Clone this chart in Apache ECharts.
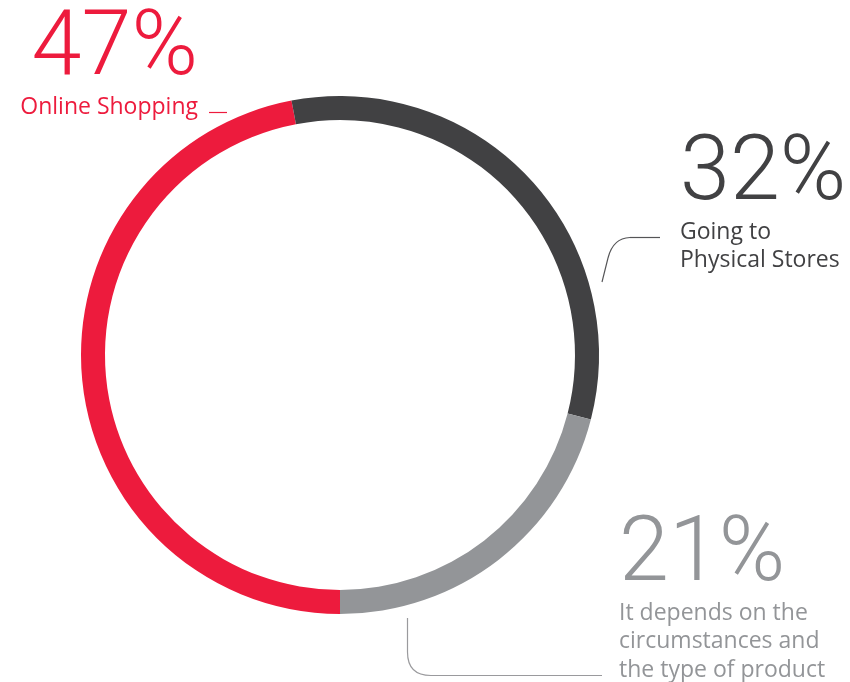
<!DOCTYPE html>
<html>
<head>
<meta charset="utf-8">
<script src="https://cdn.jsdelivr.net/npm/echarts@6/dist/echarts.min.js"></script>
<style>
  html, body { margin: 0; padding: 0; background: #ffffff; }
  #chart { width: 850px; height: 682px; }
</style>
</head>
<body>
<div id="chart"></div>
<script>
// Survey answers: where people prefer to shop
const categories = ['Online Shopping', 'Going to\nPhysical Stores', 'It depends on the\ncircumstances and\nthe type of product'];
const shares = [47, 32, 21];
const sliceColors = ['#ED1B3D', '#414143', '#939598'];

// Caption anchor for each slice: x, top of the text block, horizontal alignment
const captionSpots = [
  { x: 198, y: 10, align: 'right' },
  { x: 680, y: 135, align: 'left' },
  { x: 619, y: 516, align: 'left' }
];

const BIG_FONT = 'Roboto, "Noto Sans", sans-serif';
const SMALL_FONT = '"Open Sans", "Noto Sans", sans-serif';

const chart = echarts.init(document.getElementById('chart'), null, { renderer: 'canvas' });

chart.setOption({
  animation: false,
  backgroundColor: '#ffffff',
  series: [{
    type: 'pie',
    center: [340, 355],
    radius: [235, 259],
    startAngle: 270,
    clockwise: true,
    avoidLabelOverlap: false,
    silent: true,
    emphasis: { disabled: true },
    itemStyle: { borderWidth: 0 },
    labelLine: { show: false },
    label: {
      show: true,
      formatter: p => '{v|' + p.value + '%}\n{n|' + p.name + '}',
      rich: {
        v: { fontSize: 90, fontWeight: 300, lineHeight: 83, fontFamily: BIG_FONT },
        n: { fontSize: 23, fontWeight: 400, lineHeight: 28.5, fontFamily: SMALL_FONT }
      }
    },
    labelLayout: p => {
      const s = captionSpots[p.dataIndex];
      return { x: s.x, y: s.y, align: s.align, verticalAlign: 'top' };
    },
    data: categories.map((name, i) => ({
      name: name,
      value: shares[i],
      itemStyle: { color: sliceColors[i] },
      label: { color: sliceColors[i] }
    }))
  }],
  // thin leader strokes next to the captions
  graphic: [
    { type: 'line', shape: { x1: 209, y1: 112.5, x2: 227, y2: 112.5 },
      style: { stroke: sliceColors[0], lineWidth: 1.2 } },
    { type: 'group', children: [
      { type: 'line', shape: { x1: 660, y1: 237.5, x2: 630, y2: 237.5 },
        style: { stroke: '#555557', lineWidth: 1.2 } },
      { type: 'bezierCurve', shape: { x1: 630, y1: 237.5, cpx1: 613, cpy1: 238, x2: 608, y2: 258 },
        style: { stroke: '#555557', lineWidth: 1.2, fill: null } },
      { type: 'line', shape: { x1: 608, y1: 258, x2: 602, y2: 282 },
        style: { stroke: '#555557', lineWidth: 1.2 } }
    ] },
    { type: 'group', children: [
      { type: 'line', shape: { x1: 407.5, y1: 618, x2: 407.5, y2: 652 },
        style: { stroke: '#9a9a9d', lineWidth: 1.2 } },
      { type: 'bezierCurve', shape: { x1: 407.5, y1: 652, cpx1: 407.5, cpy1: 675.5, x2: 431, y2: 675.5 },
        style: { stroke: '#9a9a9d', lineWidth: 1.2, fill: null } },
      { type: 'line', shape: { x1: 431, y1: 675.5, x2: 602, y2: 675.5 },
        style: { stroke: '#9a9a9d', lineWidth: 1.2 } }
    ] }
  ]
});
</script>
</body>
</html>
